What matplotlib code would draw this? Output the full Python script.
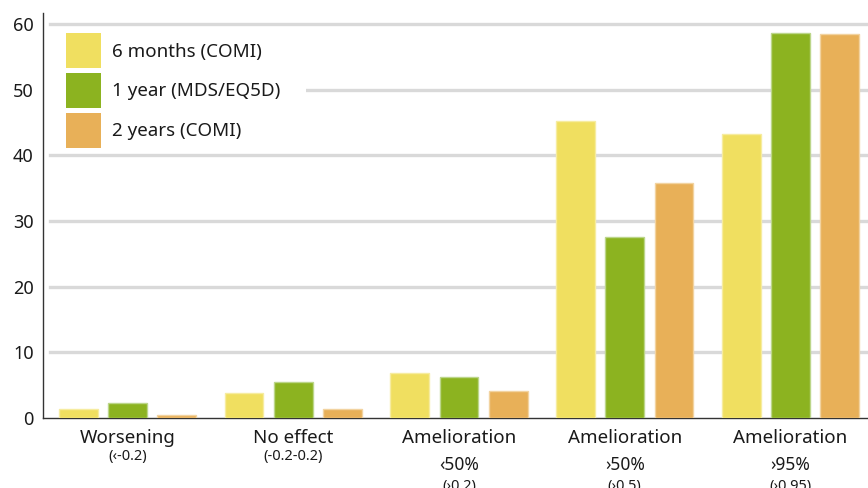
import matplotlib
matplotlib.use("Agg")
import matplotlib.pyplot as plt
import numpy as np
from matplotlib.patches import Rectangle

categories_main = ["Worsening", "No effect", "Amelioration", "Amelioration", "Amelioration"]
categories_pct = ["", "", "\u203950%", "\u203a50%", "\u203a95%"]
categories_range = ["(\u2039-0.2)", "(-0.2-0.2)", "(\u203a0.2)", "(\u203a0.5)", "(\u203a0.95)"]

series_names = ["6 months (COMI)", "1 year (MDS/EQ5D)", "2 years (COMI)"]
six_months = [1.3, 3.8, 6.9, 45.2, 43.2]
one_year = [2.3, 5.5, 6.3, 27.5, 58.6]
two_years = [0.5, 1.3, 4.1, 35.8, 58.4]
yticks = [0, 10, 20, 30, 40, 50, 60]

colors = ["#f0df60", "#8cb320", "#e8b058"]
edges = ["#f6eca0", "#bcd68a", "#f2d3a0"]

W, H = 868, 488
fig = plt.figure(figsize=(W / 100, H / 100), dpi=100)
ax = fig.add_axes([43.3 / W, (488 - 418) / H, (868 - 43.3) / W + 0.01, (418 - 12.7) / H])

font = "Noto Sans"
tc = "#1a1a1a"
x = np.arange(len(categories_main))
offs = [-0.297, 0.0, 0.297]
bw = 0.233
for s, (vals, c, e) in enumerate(zip([six_months, one_year, two_years], colors, edges)):
    ax.bar(x + offs[s], vals, width=bw, color=c, edgecolor=e, linewidth=1.0, zorder=3)

ax.set_xlim(-0.508, 4.52)
ax.set_ylim(0, 61.7)

for yv in yticks[1:]:
    ax.axhline(yv, xmin=7 / 830, xmax=1, color="#d9d9d9", linewidth=2.4, zorder=1)

# white backing behind legend (covers gridline only there)
ax.add_patch(Rectangle((46 / W, 1 - 151 / H), (306 - 46) / W, (151 - 27) / H,
                       transform=fig.transFigure, facecolor="white", edgecolor="none",
                       zorder=2, clip_on=False))

# legend drawn manually (square swatches)
for i, (name, c) in enumerate(zip(series_names, colors)):
    top = 33 + i * 40
    ax.add_patch(Rectangle((66 / W, 1 - (top + 35) / H), 35 / W, 35 / H,
                           transform=fig.transFigure, facecolor=c, edgecolor="none",
                           zorder=5, clip_on=False))
    fig.text(112 / W, 1 - (top + 23.5) / H, name, ha="left", va="baseline",
             fontsize=13.5, family=font, color=tc, zorder=6)

ax.set_yticks(yticks)
ax.set_yticklabels([str(v) for v in yticks], fontsize=13, family=font, color=tc)
ax.tick_params(axis="y", length=0, pad=7)
ax.set_xticks([])
for sp in ["top", "right"]:
    ax.spines[sp].set_visible(False)
for sp in ["left", "bottom"]:
    ax.spines[sp].set_color("#333333")
    ax.spines[sp].set_linewidth(1.0)

for i in range(len(categories_main)):
    ax.annotate(categories_main[i], xy=(x[i], 0), xytext=(0, -25.3), textcoords="offset pixels",
                ha="center", va="baseline", fontsize=13.5, family=font, color=tc,
                annotation_clip=False)
    if categories_pct[i]:
        ax.annotate(categories_pct[i], xy=(x[i], 0), xytext=(0, -52), textcoords="offset pixels",
                    ha="center", va="baseline", fontsize=12.5, family=font, color=tc,
                    annotation_clip=False)
        ax.annotate(categories_range[i], xy=(x[i], 0), xytext=(0, -72), textcoords="offset pixels",
                    ha="center", va="baseline", fontsize=10.5, family=font, color=tc,
                    annotation_clip=False)
    else:
        ax.annotate(categories_range[i], xy=(x[i], 0), xytext=(0, -42), textcoords="offset pixels",
                    ha="center", va="baseline", fontsize=10.5, family=font, color=tc,
                    annotation_clip=False)

fig.savefig("out.png", dpi=100)
